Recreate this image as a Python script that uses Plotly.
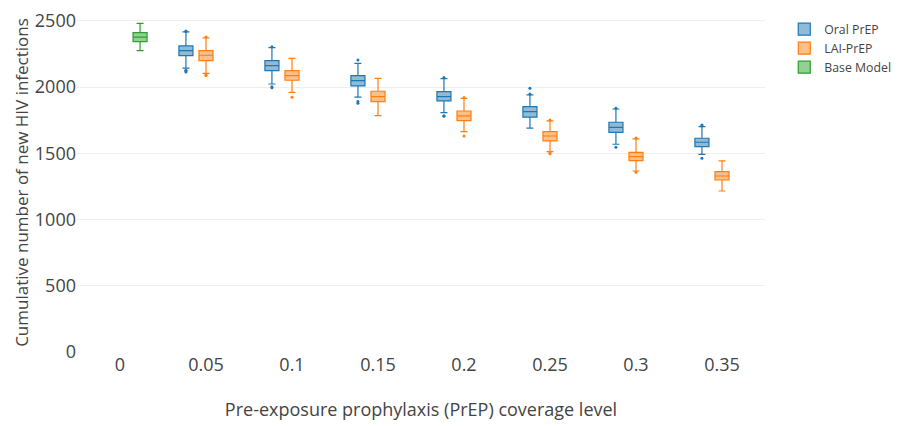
import plotly.graph_objects as go

coverage = ["0.05", "0.1", "0.15", "0.2", "0.25", "0.3", "0.35"]

# Oral PrEP box statistics
oral_lower = [2143, 2024, 1924, 1808, 1690, 1569, 1493]
oral_q1 = [2238, 2125, 2009, 1896, 1773, 1659, 1551]
oral_median = [2276, 2162, 2049, 1929, 1815, 1697, 1584]
oral_q3 = [2311, 2200, 2087, 1966, 1853, 1735, 1614]
oral_upper = [2418, 2298, 2180, 2065, 1941, 1835, 1702]
oral_outliers = [[2122, 2115, 2128, 2425, 2420],
                 [2004, 1996, 2305],
                 [2205, 1891, 1878],
                 [2072, 1785, 1780],
                 [1992, 1949],
                 [1840, 1546],
                 [1714, 1708, 1463]]

# LAI-PrEP box statistics
lai_lower = [2104, 1961, 1785, 1664, 1513, 1367, 1216]
lai_q1 = [2200, 2052, 1891, 1747, 1594, 1445, 1299]
lai_median = [2241, 2087, 1929, 1783, 1631, 1475, 1329]
lai_q3 = [2276, 2125, 1969, 1820, 1664, 1508, 1362]
lai_upper = [2372, 2218, 2067, 1915, 1745, 1610, 1443]
lai_outliers = [[2092, 2088, 2378],
                [1924],
                [],
                [1631, 1921],
                [1502, 1498, 1752],
                [1358, 1616],
                []]

# Base model
base_x = ["0"]
base_lower = [2276]
base_q1 = [2344]
base_median = [2378]
base_q3 = [2412]
base_upper = [2482]

categories = ["0"] + coverage

fig = go.Figure()
fig.add_trace(go.Box(
    name="Oral PrEP", x=coverage, y=oral_outliers,
    q1=oral_q1, median=oral_median, q3=oral_q3,
    lowerfence=oral_lower, upperfence=oral_upper,
    boxpoints="outliers", marker=dict(color="#1f77b4", size=3),
    line=dict(color="#1f77b4", width=1.2)))
fig.add_trace(go.Box(
    name="LAI-PrEP", x=coverage, y=lai_outliers,
    q1=lai_q1, median=lai_median, q3=lai_q3,
    lowerfence=lai_lower, upperfence=lai_upper,
    boxpoints="outliers", marker=dict(color="#ff7f0e", size=3),
    line=dict(color="#ff7f0e", width=1.2)))
fig.add_trace(go.Box(
    name="Base Model", x=base_x,
    q1=base_q1, median=base_median, q3=base_q3,
    lowerfence=base_lower, upperfence=base_upper,
    marker=dict(color="#2ca02c", size=3),
    line=dict(color="#2ca02c", width=1.2)))

fig.update_layout(
    template="none",
    width=908, height=426,
    boxmode="group",
    font=dict(family="Open Sans", color="#444"),
    margin=dict(l=77, r=133, t=13, b=74),
    plot_bgcolor="white", paper_bgcolor="white",
    xaxis=dict(type="category",
               categoryorder="array",
               categoryarray=categories,
               range=[-0.5, len(categories) - 0.5],
               automargin=False,
               title=dict(text="Pre-exposure prophylaxis (PrEP) coverage level",
                          font=dict(size=18), standoff=28),
               tickfont=dict(size=18), showgrid=False, zeroline=False,
               ticks="", showline=False),
    yaxis=dict(range=[0, 2560], tickvals=[0, 500, 1000, 1500, 2000, 2500],
               automargin=False,
               title=dict(text="Cumulative number of new HIV infections",
                          font=dict(size=17)),
               tickfont=dict(size=18), gridcolor="#eee", zeroline=False,
               ticks="", showline=False),
    legend=dict(x=1.028, y=0.995, font=dict(size=12.3)),
)

fig.write_html("out.html")
